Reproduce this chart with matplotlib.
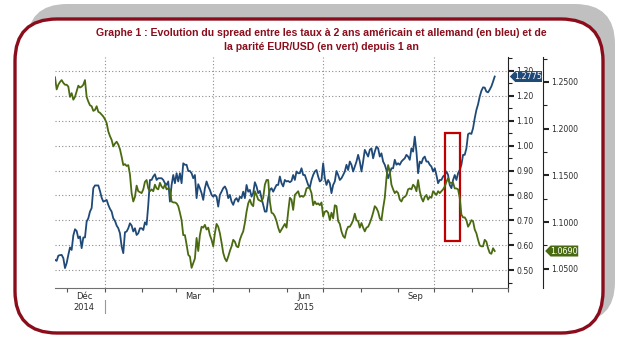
import numpy as np
import pandas as pd
import matplotlib
matplotlib.use('Agg')
import matplotlib.pyplot as plt
import matplotlib.dates as mdates
import matplotlib.transforms as mtransforms
from matplotlib.patches import FancyBboxPatch, Rectangle, Polygon
from matplotlib.ticker import MultipleLocator, FormatStrFormatter

# spread des taux 2 ans US - Allemagne (echelle de gauche, en bleu)
spread_us_de = [
    0.541, 0.537, 0.558, 0.560, 0.561, 0.548, 0.508, 0.528, 0.561, 0.591,
    0.581, 0.639, 0.664, 0.657, 0.628, 0.635, 0.588, 0.631, 0.631, 0.695,
    0.708, 0.735, 0.749, 0.829, 0.840, 0.840, 0.840, 0.818, 0.791, 0.775,
    0.778, 0.782, 0.762, 0.746, 0.735, 0.708, 0.698, 0.679, 0.668, 0.648,
    0.595, 0.568, 0.652, 0.655, 0.668, 0.688, 0.679, 0.655, 0.668, 0.641,
    0.648, 0.668, 0.668, 0.661, 0.692, 0.682, 0.762, 0.862, 0.862, 0.876,
    0.885, 0.862, 0.869, 0.869, 0.869, 0.862, 0.849, 0.842, 0.856,
    0.775, 0.842, 0.882, 0.849, 0.889, 0.856, 0.889, 0.849, 0.929, 0.923,
    0.923, 0.898, 0.898, 0.889, 0.869, 0.882, 0.789, 0.845, 0.829, 0.809,
    0.782, 0.829, 0.856, 0.836, 0.822, 0.802, 0.795, 0.802, 0.795, 0.755,
    0.802, 0.815, 0.829, 0.836, 0.822, 0.789, 0.802, 0.775, 0.762, 0.782,
    0.789, 0.775, 0.795, 0.789, 0.815, 0.789, 0.842, 0.815, 0.822, 0.795,
    0.809, 0.853, 0.836, 0.809, 0.818, 0.789, 0.762, 0.735, 0.735, 0.789,
    0.822, 0.829, 0.815, 0.829, 0.842, 0.842,
    0.876, 0.849, 0.836, 0.862, 0.856, 0.858, 0.853, 0.858, 0.882, 0.862,
    0.896, 0.889, 0.889, 0.909, 0.882, 0.882, 0.862, 0.842, 0.832, 0.862,
    0.882, 0.896, 0.902, 0.876, 0.856, 0.862, 0.929, 0.869, 0.842, 0.862,
    0.849, 0.809, 0.842, 0.856, 0.898, 0.882, 0.862, 0.869, 0.882, 0.896,
    0.923, 0.902, 0.936, 0.923, 0.896, 0.916, 0.936, 0.963, 0.936, 0.896,
    0.936, 0.983, 0.969, 0.956, 0.983, 0.989, 0.949, 0.976, 0.996, 0.989,
    0.956, 0.969, 0.936, 0.923, 0.902, 0.869, 0.889, 0.909, 0.909,
    0.943, 0.923, 0.929, 0.923, 0.936, 0.943, 0.949, 0.963, 0.956, 0.943,
    0.989, 0.976, 1.036, 0.976, 0.889, 0.936, 0.929, 0.949, 0.956, 0.936,
    0.936, 0.923, 0.916, 0.896, 0.909, 0.882, 0.849, 0.862, 0.862, 0.876,
    0.882, 0.896, 0.882, 0.842, 0.829, 0.862, 0.882, 0.862, 0.889, 0.902,
    0.923, 0.963, 0.963, 0.989, 1.046, 1.050, 1.047, 1.070, 1.110, 1.143,
    1.166, 1.197, 1.220, 1.234, 1.233, 1.217, 1.214, 1.225, 1.238, 1.257,
    1.2775,
]

# parite EUR/USD (echelle de droite, en vert)
eur_usd = [
    1.255, 1.242, 1.247, 1.250, 1.252, 1.249, 1.247, 1.247, 1.245, 1.234,
    1.238, 1.231, 1.234, 1.240, 1.246, 1.244, 1.245, 1.247, 1.252, 1.234,
    1.229, 1.225, 1.224, 1.219, 1.220, 1.224, 1.218, 1.217, 1.215, 1.213,
    1.210, 1.206, 1.197, 1.192, 1.188, 1.181, 1.184, 1.186, 1.183, 1.178,
    1.170, 1.161, 1.162, 1.160, 1.161, 1.151, 1.131, 1.122, 1.127, 1.139,
    1.133, 1.132, 1.131, 1.135, 1.143, 1.145, 1.136, 1.133, 1.135, 1.133,
    1.140, 1.136, 1.135, 1.142, 1.138, 1.136, 1.140, 1.135, 1.136,
    1.135, 1.122, 1.121, 1.121, 1.120, 1.117, 1.110, 1.102, 1.086, 1.086,
    1.076, 1.065, 1.063, 1.051, 1.056, 1.061, 1.083, 1.069, 1.086, 1.095,
    1.094, 1.097, 1.092, 1.094, 1.086, 1.081, 1.074, 1.088, 1.098, 1.095,
    1.088, 1.078, 1.067, 1.061, 1.058, 1.063, 1.069, 1.074, 1.081, 1.079,
    1.074, 1.073, 1.081, 1.086, 1.090, 1.099, 1.111, 1.120, 1.124, 1.119,
    1.117, 1.133, 1.129, 1.124, 1.123, 1.122, 1.126, 1.140, 1.145, 1.145,
    1.122, 1.110, 1.109, 1.106, 1.101, 1.094,
    1.089, 1.092, 1.095, 1.098, 1.094, 1.111, 1.126, 1.124, 1.113, 1.129,
    1.131, 1.133, 1.127, 1.128, 1.127, 1.129, 1.136, 1.137, 1.136, 1.131,
    1.118, 1.122, 1.119, 1.120, 1.118, 1.121, 1.106, 1.111, 1.112, 1.110,
    1.102, 1.110, 1.104, 1.118, 1.117, 1.101, 1.098, 1.090, 1.085, 1.083,
    1.091, 1.095, 1.095, 1.098, 1.102, 1.109, 1.102, 1.101, 1.094, 1.099,
    1.094, 1.090, 1.094, 1.095, 1.099, 1.104, 1.110, 1.117, 1.115, 1.111,
    1.104, 1.102, 1.115, 1.126, 1.147, 1.161, 1.154, 1.140, 1.135,
    1.131, 1.133, 1.131, 1.124, 1.122, 1.126, 1.127, 1.129, 1.135, 1.136,
    1.135, 1.140, 1.138, 1.133, 1.145, 1.133, 1.126, 1.122, 1.127, 1.129,
    1.124, 1.127, 1.126, 1.133, 1.131, 1.129, 1.133, 1.131, 1.133, 1.135,
    1.138, 1.143, 1.147, 1.142, 1.142, 1.142, 1.136, 1.136, 1.135, 1.126,
    1.108, 1.105, 1.105, 1.102, 1.095, 1.098, 1.102, 1.101, 1.092, 1.088,
    1.081, 1.075, 1.074, 1.074, 1.081, 1.079, 1.072, 1.067, 1.066, 1.072,
    1.069,
]

start_date = '2014-11-21'
end_date = '2015-11-20'
month_labels = ['Déc\n2014', 'Mar', 'Jun\n2015', 'Sep']
label_dates = ['2014-12-15', '2015-03-15', '2015-06-15', '2015-09-15']
quarter_dates = ['2015-01-01', '2015-04-01', '2015-07-01', '2015-10-01']
spread_ticks = [0.50, 0.60, 0.70, 0.80, 0.90, 1.00, 1.10, 1.20, 1.30]
eurusd_ticks = [1.05, 1.10, 1.15, 1.20, 1.25]
last_spread = '1.2775'
last_eurusd = '1.0690'

title_1 = "Graphe 1 : Evolution du spread entre les taux à 2 ans américain et allemand (en bleu) et de"
title_2 = "la parité EUR/USD (en vert) depuis 1 an"

blue = '#1f4a78'
green = '#4a6a12'
dark_red = '#8b0d1c'
grid_kw = dict(ls=(0, (1, 2)), color='#8c8c8c', lw=0.8)

dates = pd.date_range(start_date, end_date, periods=len(spread_us_de))

fig = plt.figure(figsize=(6.27, 3.46), dpi=100)

# cadre : ombre grise + bord rouge arrondi
bg = fig.add_axes([0, 0, 1, 1])
bg.set_xlim(0, 627)
bg.set_ylim(346, 0)
bg.axis('off')
bg.add_patch(FancyBboxPatch((27, 4), 588, 318, boxstyle='round,pad=0,rounding_size=40',
                            fc='#c0c0c0', ec='none'))
bg.add_patch(FancyBboxPatch((15, 19), 588, 314, boxstyle='round,pad=0,rounding_size=42',
                            fc='white', ec=dark_red, lw=2.4))

title_font = dict(ha='center', va='center', color=dark_red, fontsize=7.6,
                  fontweight='bold', family=['Liberation Sans', 'DejaVu Sans'])
fig.text(321 / 627, 1 - 33 / 346, title_1, **title_font)
fig.text(321 / 627, 1 - 47 / 346, title_2, **title_font)

ax = fig.add_axes([55 / 627, 58 / 346, 453 / 627, 231 / 346])
ax.set_facecolor('none')
ax.plot(dates, spread_us_de, color=blue, lw=1.3, zorder=3)
ax.set_xlim(pd.Timestamp('2014-11-21'), pd.Timestamp('2015-12-01'))
ax.set_ylim(0.428, 1.356)

ax2 = ax.twinx()
ax2.plot(dates, eur_usd, color=green, lw=1.3, zorder=3)
ax2.set_ylim(1.0294, 1.2767)

# grille pointillee
ax.set_yticks(spread_ticks)
ax.grid(axis='y', **grid_kw)
for d in quarter_dates:
    ax.axvline(pd.Timestamp(d), **grid_kw, zorder=1)

# axe de gauche (spread) affiche a droite
ax.yaxis.tick_right()
ax.yaxis.set_major_formatter(FormatStrFormatter('%.2f'))
ax.yaxis.set_minor_locator(MultipleLocator(0.05))
ax.tick_params(axis='y', which='major', length=4, width=1.5, color='#222222',
               labelsize=5.6, labelcolor='#2b2b2b', pad=2)
ax.tick_params(axis='y', which='minor', length=3, width=0.8, color='#222222')

# axe de droite (EUR/USD), decale de 35 px
ax2.spines['right'].set_position(('outward', 25.2))
ax2.set_yticks(eurusd_ticks)
ax2.yaxis.set_major_formatter(FormatStrFormatter('%.4f'))
ax2.yaxis.set_minor_locator(MultipleLocator(0.025))
ax2.tick_params(axis='y', which='major', length=4, width=1.5, color='#222222',
                labelsize=5.6, labelcolor='#2b2b2b', pad=2)
ax2.tick_params(axis='y', which='minor', length=3, width=0.8, color='#222222')

# axe des dates
ax.set_xticks([pd.Timestamp(d) for d in label_dates])
ax.set_xticklabels(month_labels)
ax.xaxis.set_minor_locator(mdates.MonthLocator())
ax.tick_params(axis='x', which='major', length=0, labelsize=6, labelcolor='#2b2b2b', pad=3)
ax.tick_params(axis='x', which='minor', length=3, width=0.8, color='#555555', direction='out')
sep = mtransforms.blended_transform_factory(ax.transData, ax.transAxes)
jan1 = pd.Timestamp('2015-01-01')
ax.plot([jan1, jan1], [-0.05, -0.11], transform=sep, clip_on=False, color='#999999', lw=0.8)

for s in ['top', 'left']:
    ax.spines[s].set_visible(False)
ax.spines['bottom'].set_color('#707070')
ax.spines['right'].set_color('#222222')
for s in ['top', 'left', 'bottom']:
    ax2.spines[s].set_visible(False)
ax2.spines['right'].set_color('#222222')

# encadre rouge d'octobre
x0 = mdates.date2num(pd.Timestamp('2015-10-10'))
x1 = mdates.date2num(pd.Timestamp('2015-10-22'))
ax.add_patch(Rectangle((x0, 0.617), x1 - x0, 0.435, fill=False, ec='#c00000', lw=1.6, zorder=5))

# etiquettes des dernieres valeurs
def value_tag(axis, x_left, x_right, y, half_h, text, color):
    tr = mtransforms.blended_transform_factory(axis.transAxes, axis.transData)
    pts = [(x_left, y), (x_left + 0.012, y + half_h), (x_right, y + half_h),
           (x_right, y - half_h), (x_left + 0.012, y - half_h)]
    axis.add_patch(Polygon(pts, closed=True, fc=color, ec='none', transform=tr,
                           clip_on=False, zorder=10))
    axis.text((x_left + 0.012 + x_right) / 2, y, text, transform=tr, ha='center', va='center',
              color='white', fontsize=5.8, clip_on=False, zorder=11)

value_tag(ax, 1.004, 1.075, spread_us_de[-1], 0.022, last_spread, blue)
value_tag(ax2, 1.082, 1.155, eur_usd[-1], 0.0059, last_eurusd, green)

fig.savefig('out.png', dpi=100)
